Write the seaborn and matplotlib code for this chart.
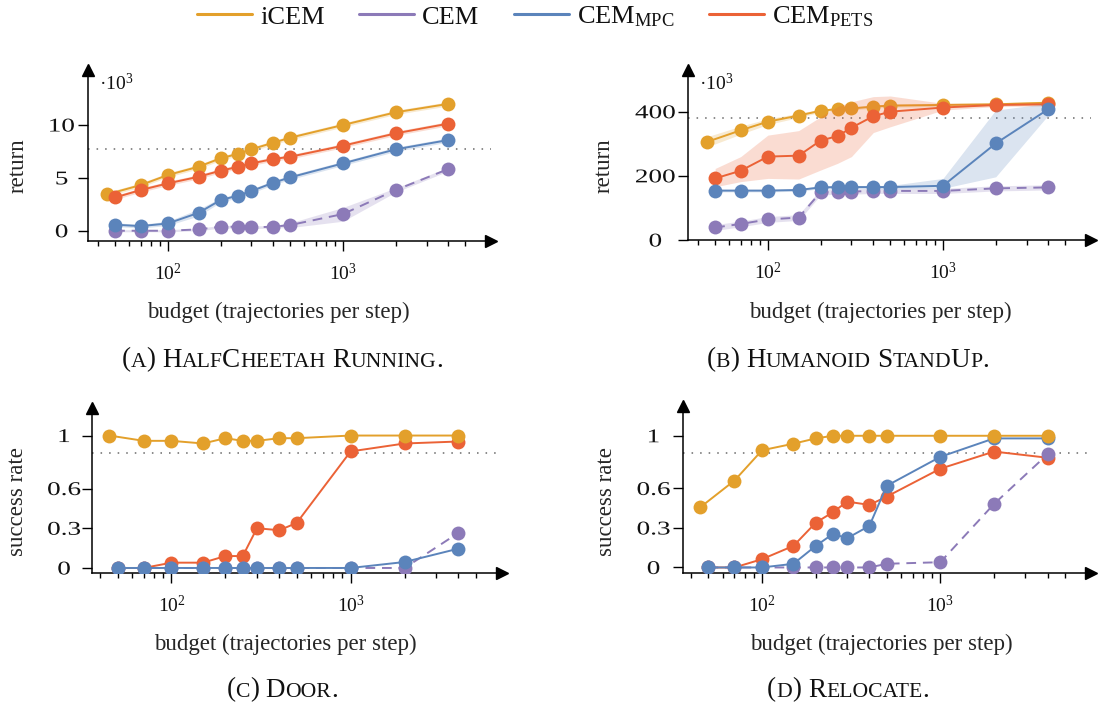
import matplotlib
matplotlib.use("Agg")
import matplotlib.pyplot as plt
import seaborn as sns
from matplotlib.lines import Line2D
from matplotlib.offsetbox import TextArea, HPacker, DrawingArea, AnchoredOffsetbox
from matplotlib.patheffects import AbstractPathEffect
from matplotlib.ticker import FixedLocator, NullFormatter
from matplotlib.transforms import Affine2D

# ------------------------------------------------------------------
# Data: budget (trajectories per step) and results per method
# ------------------------------------------------------------------
budget_icem = [45, 70, 100, 150, 200, 250, 300, 400, 500, 1000, 2000, 4000]
budget = [50, 70, 100, 150, 200, 250, 300, 400, 500, 1000, 2000, 4000]

# (a) HalfCheetah Running, return in thousands
cheetah_icem = [3.44, 4.32, 5.27, 6.06, 6.85, 7.26, 7.70, 8.33, 8.80, 10.0, 11.2, 12.0]
cheetah_icem_lo = [3.25, 4.12, 5.07, 5.86, 6.65, 7.06, 7.50, 8.13, 8.60, 9.80, 11.0, 11.8]
cheetah_icem_hi = [3.64, 4.52, 5.47, 6.26, 7.05, 7.46, 7.90, 8.53, 9.00, 10.2, 11.4, 12.2]
cheetah_cem = [0.0, 0.0, 0.0, 0.13, 0.38, 0.38, 0.32, 0.38, 0.54, 1.58, 3.85, 5.84]
cheetah_cem_lo = [-0.1, -0.1, -0.1, 0.0, 0.25, 0.25, 0.2, 0.25, 0.3, 0.9, 3.65, 5.65]
cheetah_cem_hi = [0.1, 0.1, 0.1, 0.25, 0.5, 0.5, 0.45, 0.5, 0.75, 2.2, 4.05, 6.0]
cheetah_mpc = [0.57, 0.44, 0.69, 1.70, 2.90, 3.31, 3.75, 4.54, 5.05, 6.37, 7.70, 8.58]
cheetah_mpc_lo = [0.4, 0.25, 0.5, 1.4, 2.7, 3.1, 3.55, 4.35, 4.85, 6.17, 7.5, 8.38]
cheetah_mpc_hi = [0.75, 0.6, 0.9, 2.05, 3.1, 3.5, 3.95, 4.75, 5.25, 6.57, 7.9, 8.78]
cheetah_pets = [3.15, 3.85, 4.48, 5.11, 5.68, 6.03, 6.37, 6.78, 7.00, 8.04, 9.21, 10.13]
cheetah_pets_lo = [2.95, 3.65, 4.28, 4.91, 5.48, 5.83, 6.17, 6.58, 6.80, 7.84, 9.01, 9.93]
cheetah_pets_hi = [3.35, 4.05, 4.68, 5.31, 5.88, 6.23, 6.57, 6.98, 7.20, 8.24, 9.41, 10.33]

# (b) Humanoid StandUp, return in thousands
humanoid_icem = [306, 342, 369, 388, 403, 408, 410, 416, 419, 421, 423, 428]
humanoid_icem_lo = [290, 330, 360, 382, 398, 403, 405, 411, 414, 416, 418, 423]
humanoid_icem_hi = [322, 355, 378, 395, 408, 413, 415, 421, 424, 426, 428, 433]
humanoid_cem = [39, 50, 64, 70, 149, 151, 151, 153, 153, 153, 161, 164]
humanoid_cem_lo = [30, 41, 55, 61, 140, 143, 143, 145, 145, 145, 153, 156]
humanoid_cem_hi = [48, 59, 73, 79, 158, 159, 159, 161, 161, 161, 169, 172]
humanoid_mpc = [154, 154, 154, 156, 164, 165, 165, 165, 165, 169, 301, 408]
humanoid_mpc_lo = [150, 150, 150, 152, 160, 160, 160, 160, 160, 161, 197, 390]
humanoid_mpc_hi = [158, 158, 158, 160, 168, 170, 170, 170, 170, 192, 405, 426]
humanoid_pets = [192, 216, 260, 263, 310, 324, 350, 386, 400, 413, 421, 423]
humanoid_pets_lo = [166, 182, 192, 190, 218, 239, 260, 335, 353, 405, 416, 418]
humanoid_pets_hi = [223, 260, 327, 341, 384, 416, 431, 447, 449, 426, 426, 428]

# (c) Door, success rate
door_icem = [1.0, 0.96, 0.96, 0.94, 0.98, 0.96, 0.96, 0.98, 0.98, 1.0, 1.0, 1.0]
door_cem = [0, 0, 0, 0, 0, 0, 0, 0, 0, 0, 0.0, 0.265]
door_mpc = [0, 0, 0, 0, 0, 0, 0, 0, 0, 0, 0.045, 0.146]
door_pets = [0, 0, 0.04, 0.04, 0.09, 0.09, 0.30, 0.285, 0.34, 0.88, 0.94, 0.955]

# (d) Relocate, success rate
relocate_icem = [0.457, 0.66, 0.89, 0.94, 0.98, 1.0, 1.0, 1.0, 1.0, 1.0, 1.0, 1.0]
relocate_cem = [0, 0, 0, 0, 0, 0, 0, 0, 0.028, 0.04, 0.482, 0.86]
relocate_mpc = [0, 0, 0, 0.028, 0.164, 0.255, 0.222, 0.316, 0.62, 0.84, 0.98, 0.98]
relocate_pets = [0, 0, 0.063, 0.164, 0.34, 0.42, 0.50, 0.475, 0.538, 0.75, 0.88, 0.833]

# Reference levels (dotted lines)
ref_cheetah = 7.7
ref_humanoid = 379
ref_door = 0.866
ref_relocate = 0.866

method_names = ["iCEM", "CEM", r"CEM$_{\mathrm{MPC}}$", r"CEM$_{\mathrm{PETS}}$"]
panel_titles = ["(a) HalfCheetah Running.", "(b) Humanoid StandUp.",
                "(c) Door.", "(d) Relocate."]
x_label = "budget (trajectories per step)"

# ------------------------------------------------------------------
# Style
# ------------------------------------------------------------------
C_ICEM, C_CEM, C_MPC, C_PETS = "#E3A02B", "#8C7AB8", "#5B84BB", "#EB6236"

sns.set_theme(style="ticks")
plt.rcParams.update({
    "font.family": ["Liberation Serif", "DejaVu Serif"],
    "mathtext.fontset": "custom",
    "mathtext.rm": "Liberation Serif",
    "mathtext.it": "Liberation Serif:italic",
    "mathtext.bf": "Liberation Serif:bold",
    "axes.linewidth": 1.1,
    "axes.edgecolor": "black",
    "text.color": "#111111",
    "xtick.color": "black",
    "ytick.color": "black",
    "xtick.labelcolor": "#111111",
    "ytick.labelcolor": "#111111",
})


class WideGlyphs(AbstractPathEffect):
    """Draw a text path widened along its baseline around its centre."""

    def __init__(self, factor):
        super().__init__()
        self.factor = factor

    def draw_path(self, renderer, gc, tpath, affine, rgbFace=None):
        ext = tpath.get_extents()
        cx = 0.5 * (ext.x0 + ext.x1)
        widen = Affine2D().translate(-cx, 0).scale(self.factor, 1.0).translate(cx, 0)
        renderer.draw_path(gc, tpath, widen + affine, rgbFace)


W, H = 1099, 710
fig = plt.figure(figsize=(W / 100, H / 100), dpi=100)


def add_axes_px(left, top, width, bottom):
    return fig.add_axes([left / W, 1 - bottom / H, width / W, (bottom - top) / H])


def draw_series(ax, x, y, color, z, dashed=False, lo=None, hi=None):
    if lo is not None:
        ax.fill_between(x, lo, hi, color=color, alpha=0.22, linewidth=0, zorder=z)
    sns.lineplot(x=x, y=y, ax=ax, color=color, marker="o", markersize=10,
                 markeredgewidth=0, linewidth=1.4,
                 linestyle=(0, (5, 3.5)) if dashed else "-",
                 zorder=z + 0.5, legend=False, estimator=None, sort=False)


def style_axes(ax, xlim, ylim, yticks, ylabels, ref, ylabel, ylab_pad,
               ylabel_px, xlabel_px, box):
    left, top, width, bottom = box
    ax.set_xscale("log")
    ax.set_xlim(*xlim)
    ax.set_ylim(*ylim)
    ax.axhline(ref, color="#8a8a8a", linewidth=1.4, linestyle=(0, (0.8, 3.6)), zorder=1)
    ax.xaxis.set_major_locator(FixedLocator([100, 1000]))
    ax.set_xticks([100, 1000], labels=[r"$10^{2}$", r"$10^{3}$"])
    minor = [40, 50, 60, 70, 80, 90, 200, 300, 400, 500, 600, 700, 800, 900,
             2000, 3000, 4000, 5000]
    ax.xaxis.set_minor_locator(FixedLocator(minor))
    ax.xaxis.set_minor_formatter(NullFormatter())
    ax.set_yticks(yticks, labels=ylabels)
    ax.yaxis.set_minor_locator(FixedLocator([]))
    ax.tick_params(axis="x", which="major", direction="out", length=7.5, width=1.0,
                   pad=8.5, labelsize=14)
    ax.tick_params(axis="x", which="minor", direction="out", length=3.5, width=1.0)
    ax.tick_params(axis="y", which="major", direction="out", length=7.5, width=1.0,
                   pad=ylab_pad, labelsize=14)
    for lab in ax.get_yticklabels():
        lab.set_horizontalalignment("center")
        lab.set_path_effects([WideGlyphs(1.4)])
    sns.despine(ax=ax)
    ax.grid(False)
    # arrow heads at the ends of both axis lines
    ax.plot(1, 0, marker=">", markersize=8, color="black", transform=ax.transAxes,
            clip_on=False, zorder=10)
    ax.plot(0, 1, marker="^", markersize=8, color="black", transform=ax.transAxes,
            clip_on=False, zorder=10)
    ax.set_xlabel(x_label, fontsize=16.5)
    ax.set_ylabel(ylabel, fontsize=16.5)
    ax.xaxis.set_label_coords((xlabel_px[0] - left) / width,
                              (bottom - xlabel_px[1]) / (bottom - top))
    ax.xaxis.label.set_verticalalignment("center")
    ax.yaxis.set_label_coords((ylabel_px[0] - left) / width,
                              (bottom - ylabel_px[1]) / (bottom - top))
    ax.yaxis.label.set_verticalalignment("center")


def small_caps(text, size, ratio=0.8):
    """Horizontal row of text pieces rendering `text` in small capitals."""
    children = []
    run, run_small = "", None

    def flush(run, run_small):
        if run:
            fs = size * ratio if run_small else size
            children.append(TextArea(run.upper() if run_small else run,
                                     textprops=dict(fontsize=fs, color="#111111")))

    for ch in text:
        if ch == " ":
            flush(run, run_small)
            run, run_small = "", None
            children.append(DrawingArea(size * 0.25, 1))
            continue
        is_small = ch.islower()
        if run_small is None or is_small == run_small:
            run += ch
            run_small = is_small
        else:
            flush(run, run_small)
            run, run_small = ch, is_small
    flush(run, run_small)
    return HPacker(children=children, align="baseline", pad=0, sep=0)


def add_caption(text, cx, cy, size=19.5):
    box = AnchoredOffsetbox(loc="center", child=small_caps(text, size), pad=0,
                            borderpad=0, frameon=False,
                            bbox_to_anchor=(cx / W, 1 - cy / H),
                            bbox_transform=fig.transFigure)
    fig.add_artist(box)


# ------------------------------------------------------------------
# Panels
# ------------------------------------------------------------------
box_a = (88, 70, 403, 241)
box_b = (688, 70, 403, 240)
box_c = (92, 408, 410, 573)
box_d = (683, 406, 408, 573)

ax_a = add_axes_px(*box_a)
ax_b = add_axes_px(*box_b)
ax_c = add_axes_px(*box_c)
ax_d = add_axes_px(*box_d)

# (a)
draw_series(ax_a, budget_icem, cheetah_icem, C_ICEM, 2, lo=cheetah_icem_lo, hi=cheetah_icem_hi)
draw_series(ax_a, budget, cheetah_cem, C_CEM, 3, dashed=True, lo=cheetah_cem_lo, hi=cheetah_cem_hi)
draw_series(ax_a, budget, cheetah_pets, C_PETS, 4, lo=cheetah_pets_lo, hi=cheetah_pets_hi)
draw_series(ax_a, budget, cheetah_mpc, C_MPC, 5, lo=cheetah_mpc_lo, hi=cheetah_mpc_hi)
style_axes(ax_a, (35, 7000), (-0.97, 15.2), [0, 5, 10], ["0", "5", "10"], ref_cheetah,
           "return", 11.5, (18, 166), (278, 312), box_a)

# (b)
draw_series(ax_b, budget_icem, humanoid_icem, C_ICEM, 2, lo=humanoid_icem_lo, hi=humanoid_icem_hi)
draw_series(ax_b, budget, humanoid_cem, C_CEM, 3, dashed=True, lo=humanoid_cem_lo, hi=humanoid_cem_hi)
draw_series(ax_b, budget, humanoid_pets, C_PETS, 4, lo=humanoid_pets_lo, hi=humanoid_pets_hi)
draw_series(ax_b, budget, humanoid_mpc, C_MPC, 5, lo=humanoid_mpc_lo, hi=humanoid_mpc_hi)
style_axes(ax_b, (35, 7000), (0, 530), [0, 200, 400], ["0", "200", "400"], ref_humanoid,
           "return", 16, (604, 166), (880, 312), box_b)

# (c)
draw_series(ax_c, budget, door_pets, C_PETS, 2)
draw_series(ax_c, budget, door_cem, C_CEM, 3, dashed=True)
draw_series(ax_c, budget, door_mpc, C_MPC, 4)
draw_series(ax_c, budget_icem, door_icem, C_ICEM, 5)
style_axes(ax_c, (36, 7000), (-0.038, 1.208), [0, 0.3, 0.6, 1], ["0", "0.3", "0.6", "1"],
           ref_door, "success rate", 12.6, (18, 502), (285, 644), box_c)

# (d)
draw_series(ax_d, budget, relocate_pets, C_PETS, 2)
draw_series(ax_d, budget, relocate_cem, C_CEM, 3, dashed=True)
draw_series(ax_d, budget, relocate_mpc, C_MPC, 4)
draw_series(ax_d, budget_icem, relocate_icem, C_ICEM, 5)
style_axes(ax_d, (36, 7000), (-0.042, 1.226), [0, 0.3, 0.6, 1], ["0", "0.3", "0.6", "1"],
           ref_relocate, "success rate", 13.7, (607, 502), (881, 644), box_d)

# scale note on the return axes
for ax in (ax_a, ax_b):
    ax.annotate("·$10^{3}$", xy=(0, 1), xycoords="axes fraction",
                xytext=(8, -10), textcoords="offset points",
                ha="left", va="center", fontsize=14)

# captions
add_caption(panel_titles[0], 282, 360)
add_caption(panel_titles[1], 848, 360)
add_caption(panel_titles[2], 282, 690)
add_caption(panel_titles[3], 848, 690)

# shared legend
handles = [Line2D([], [], color=c, linewidth=2.2) for c in (C_ICEM, C_CEM, C_MPC, C_PETS)]
fig.legend(handles, method_names, loc="center", bbox_to_anchor=(535 / W, 1 - 17 / H),
           ncol=4, frameon=False, fontsize=19, handlelength=2.1, handletextpad=0.3,
           columnspacing=1.3, borderaxespad=0, borderpad=0)

fig.savefig("out.png", dpi=100)
